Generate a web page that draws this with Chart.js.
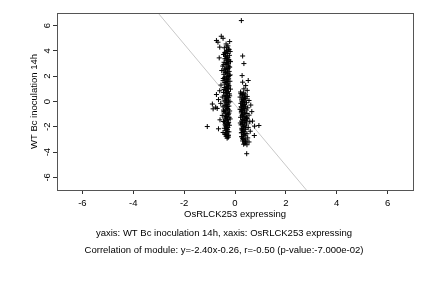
<!DOCTYPE html>
<html>
<head>
<meta charset="utf-8">
<script src="https://cdn.jsdelivr.net/npm/chart.js@4/dist/chart.umd.min.js"></script>
<style>
  html, body { margin: 0; padding: 0; background: #fff; }
  #wrap { width: 432px; height: 288px; position: relative; }
</style>
</head>
<body>
<div id="wrap"><canvas id="scatterChart"></canvas></div>
<script>
// left cluster (around x = -0.3)
const leftX = [
  -0.54, -0.47, -0.21, -0.73, -0.67, -0.35, -0.28, -0.60, -0.42, -0.25, -0.33, -0.19, -0.38, -0.30, -0.45,
  -0.22, -0.35, -0.28, -0.62, -0.40, -0.24, -0.32, -0.18, -0.43, -0.30, -0.36, -0.26, -0.48, -0.21, -0.34,
  -0.40, -0.29, -0.52, -0.23, -0.37, -0.31, -0.44, -0.19, -0.27, -0.35, -0.41, -0.25, -0.30, -0.47, -0.20,
  -0.36, -0.28, -0.39, -0.55, -0.24, -0.33, -0.42, -0.29, -0.18, -0.37, -0.60, -0.26, -0.45, -0.32, -0.22,
  -0.73, -0.40, -0.30, -0.50, -0.25, -0.36, -0.65, -0.28, -0.43, -0.20, -0.34, -0.56, -0.30, -0.40, -0.86,
  -0.24, -0.47, -0.33, -0.70, -0.27, -0.38, -0.21, -0.44, -0.31, -0.36, -0.26, -0.50, -0.33, -0.23, -0.40,
  -0.59, -0.29, -0.35, -0.45, -0.25, -0.31, -1.09, -0.39, -0.22, -0.34, -0.65, -0.28, -0.42, -0.30, -0.36,
  -0.24, -0.33, -0.40, -0.27, -0.26, -0.35, -0.31, -0.76, -0.89,
  -0.32, -0.27, -0.37, -0.29, -0.33, -0.24, -0.39, -0.31, -0.28, -0.34, -0.40, -0.27, -0.30, -0.35, -0.28,
  -0.38, -0.33, -0.26, -0.36, -0.30, -0.42, -0.28, -0.37, -0.30, -0.26, -0.38, -0.32, -0.29, -0.37, -0.30,
  -0.23, -0.41, -0.35, -0.20, -0.44, -0.27, -0.39, -0.22, -0.46, -0.31, -0.25, -0.43, -0.34, -0.21, -0.38,
  -0.29, -0.45, -0.24, -0.36, -0.19, -0.41, -0.28, -0.33, -0.47, -0.26
];
const leftY = [
  5.16, 5.00, 4.74, 4.82, 4.69, 4.55, 4.40, 4.30, 4.25, 4.15, 4.05, 3.95, 3.90, 3.80, 3.72,
  3.65, 3.55, 3.50, 3.45, 3.38, 3.30, 3.22, 3.15, 3.10, 3.02, 2.95, 2.88, 2.80, 2.72, 2.65,
  2.58, 2.50, 2.45, 2.38, 2.30, 2.22, 2.15, 2.10, 2.02, 1.95, 1.88, 1.80, 1.72, 1.65, 1.60,
  1.52, 1.45, 1.38, 1.30, 1.25, 1.18, 1.10, 1.02, 0.98, 0.92, 0.85, 0.80, 0.72, 0.66, 0.60,
  0.55, 0.48, 0.42, 0.35, 0.30, 0.22, 0.15, 0.10, 0.04, -0.02, -0.10, -0.15, -0.22, -0.30, -0.58,
  -0.36, -0.42, -0.50, -0.55, -0.62, -0.70, -0.75, -0.82, -0.90, -0.98, -1.05, -1.10, -1.18, -1.25, -1.32,
  -1.45, -1.40, -1.50, -1.58, -1.65, -1.72, -1.98, -1.80, -1.88, -1.95, -2.16, -2.05, -2.12, -2.22, -2.30,
  -2.40, -2.50, -2.58, -2.65, -2.82, -2.75, -2.90, -0.45, -0.20,
  4.30, 3.98, 3.62, 3.35, 3.08, 2.75, 2.55, 2.28, 1.98, 1.75, 1.50, 1.32, 1.08, 0.86, 0.62,
  0.38, 0.18, -0.05, -0.28, -0.55, -0.78, -1.00, -1.22, -1.45, -1.70, -1.92, -2.15, -2.38, -2.62, -2.80,
  4.10, 3.85, 3.40, 3.18, 2.92, 2.62, 2.35, 2.05, 1.82, 1.58, 1.22, 0.95, 0.70, 0.45, 0.05,
  -0.40, -0.68, -0.92, -1.15, -1.38, -1.62, -1.85, -2.08, -2.45, -2.70
];

// right cluster (around x = 0.3)
const rightX = [
  0.25, 0.30, 0.35, 0.28, 0.52, 0.30, 0.42, 0.35, 0.48,
  0.22, 0.33, 0.40, 0.27, 0.36, 0.48, 0.20, 0.31, 0.42, 0.26, 0.55, 0.35, 0.29, 0.45, 0.23,
  0.38, 0.62, 0.30, 0.41, 0.26, 0.50, 0.34, 0.20, 0.44, 0.30, 0.66, 0.37, 0.25, 0.47, 0.32,
  0.55, 0.28, 0.40, 0.22, 0.69, 0.35, 0.48, 0.30, 0.43, 0.26, 0.58, 0.36, 0.94, 0.30, 0.45,
  0.24, 0.77, 0.39, 0.33, 0.52, 0.27, 0.42, 0.31, 0.60, 0.36, 0.25, 0.47, 0.76, 0.33, 0.40,
  0.28, 0.50, 0.35, 0.43, 0.30, 0.55, 0.38, 0.47, 0.46,
  0.30, 0.38, 0.28, 0.34, 0.27, 0.39, 0.31, 0.36, 0.29, 0.40, 0.32, 0.35, 0.30, 0.41, 0.36,
  0.25, 0.43, 0.27, 0.33, 0.24, 0.37, 0.29, 0.44, 0.21, 0.35, 0.28, 0.39, 0.26, 0.32, 0.42,
  0.23, 0.37, 0.30, 0.45, 0.27, 0.34
];
const rightY = [
  6.40, 3.60, 3.00, 2.05, 1.66, 1.53, 1.26, 1.00, 0.88,
  0.75, 0.68, 0.60, 0.52, 0.45, 0.40, 0.35, 0.28, 0.20, 0.12, 0.08, 0.02, -0.05, -0.10, -0.15,
  -0.22, -0.28, -0.30, -0.38, -0.45, -0.50, -0.55, -0.62, -0.68, -0.72, -0.80, -0.85, -0.90, -0.95, -1.00,
  -1.08, -1.12, -1.18, -1.25, -1.55, -1.30, -1.35, -1.42, -1.48, -1.55, -1.60, -1.65, -1.90, -1.72, -1.78,
  -1.85, -1.95, -1.92, -2.00, -2.05, -2.12, -2.20, -2.28, -2.35, -2.40, -2.48, -2.55, -2.69, -2.62, -2.72,
  -2.80, -2.88, -2.95, -3.05, -3.12, -3.20, -3.30, -3.42, -4.13,
  0.55, 0.25, -0.02, -0.35, -0.65, -0.92, -1.20, -1.50, -1.80, -2.08, -2.38, -2.65, -2.92, -3.15, -0.10,
  -0.78, -1.62, -2.25, 0.15, -0.42, -0.58, -1.05, -1.38, -1.70, -1.98, -2.18, -2.52, -2.78, -3.00, -3.28,
  0.62, 0.35, -0.25, -1.28, -2.45, -3.38
];

// regression line y = -2.40x - 0.26, two end points
const lineX = [-7, 7];
const lineY = [16.54, -17.06];

const xTicks = [-6, -4, -2, 0, 2, 4, 6];
const yTicks = [-6, -4, -2, 0, 2, 4, 6];

const xTitle = 'OsRLCK253 expressing';
const yTitle = 'WT Bc inoculation 14h';
const captions = [
  'yaxis: WT Bc inoculation 14h, xaxis: OsRLCK253 expressing',
  'Correlation of module: y=-2.40x-0.26, r=-0.50 (p-value:-7.000e-02)'
];

const toPoints = (xs, ys) => xs.map((x, i) => ({ x: x, y: ys[i] }));
const FONT = 'Liberation Sans, Arial, Helvetica, sans-serif';
const FS = 9.5;

// box around the plot area + the two caption lines
const boxAndCaptions = {
  id: 'boxAndCaptions',
  afterDraw(chart) {
    const { ctx, chartArea: a } = chart;
    ctx.save();
    ctx.strokeStyle = '#555';
    ctx.lineWidth = 1;
    ctx.strokeRect(Math.round(a.left) + 0.5, Math.round(a.top) + 0.5,
      Math.round(a.right - a.left), Math.round(a.bottom - a.top));
    ctx.fillStyle = '#000';
    ctx.font = FS + 'px ' + FONT;
    ctx.textAlign = 'center';
    ctx.textBaseline = 'middle';
    ctx.fillText(captions[0], 224, 233);
    ctx.fillText(captions[1], 224, 250);
    ctx.restore();
  }
};

const ctx = document.getElementById('scatterChart').getContext('2d');
new Chart(ctx, {
  type: 'scatter',
  data: {
    datasets: [
      {
        type: 'line',
        data: toPoints(lineX, lineY),
        borderColor: '#c8c8c8',
        borderWidth: 1,
        pointRadius: 0,
        fill: false,
        order: 2
      },
      {
        data: toPoints(leftX, leftY),
        pointStyle: 'cross',
        pointRadius: 2.5,
        borderColor: '#000',
        borderWidth: 1,
        order: 1
      },
      {
        data: toPoints(rightX, rightY),
        pointStyle: 'cross',
        pointRadius: 2.5,
        borderColor: '#000',
        borderWidth: 1,
        order: 1
      }
    ]
  },
  options: {
    responsive: true,
    maintainAspectRatio: false,
    animation: false,
    layout: { padding: { left: 0, right: 19, top: 13, bottom: 63 } },
    plugins: {
      legend: { display: false },
      tooltip: { enabled: false }
    },
    scales: {
      x: {
        type: 'linear',
        min: -7,
        max: 7,
        afterBuildTicks: s => { s.ticks = xTicks.map(v => ({ value: v })); },
        afterFit: s => { s.height = 35; },
        grid: { drawOnChartArea: false, drawTicks: true, tickLength: 4, color: '#333' },
        border: { display: false },
        ticks: { color: '#000', font: { family: FONT, size: FS }, padding: 4, maxRotation: 0 },
        title: { display: true, text: xTitle, color: '#000', font: { family: FONT, size: FS }, padding: { top: 0, bottom: 5 } }
      },
      y: {
        type: 'linear',
        min: -7,
        max: 7,
        afterBuildTicks: s => { s.ticks = yTicks.map(v => ({ value: v })); },
        afterFit: s => { s.width = 57; },
        grid: { drawOnChartArea: false, drawTicks: true, tickLength: 4, color: '#333' },
        border: { display: false },
        ticks: { color: '#000', font: { family: FONT, size: FS }, padding: 1, minRotation: 90, maxRotation: 90, crossAlign: 'center' },
        title: { display: true, text: yTitle, color: '#000', font: { family: FONT, size: FS }, padding: { top: 29, bottom: 0 } }
      }
    }
  },
  plugins: [boxAndCaptions]
});
</script>
</body>
</html>
